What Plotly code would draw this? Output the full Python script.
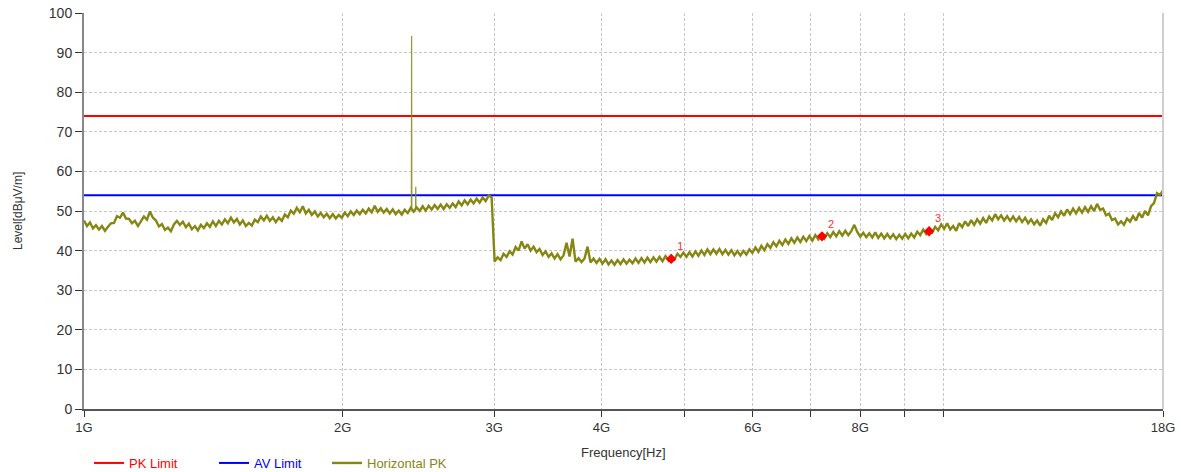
import numpy as np
import pandas as pd
import plotly.graph_objects as go

# ---- data ----
start_ghz, stop_ghz, n_points = 1.0, 18.0, 361
sweep_ghz = np.geomspace(start_ghz, stop_ghz, n_points)

horizontal_pk = [
    47.6, 46.2, 47.1, 45.6, 46.4, 45.3, 46.2, 45.0, 46.0, 46.9,
    47.0, 48.7, 48.3, 49.6, 48.1, 48.0, 46.9, 47.5, 46.2, 47.6,
    48.6, 47.8, 49.9, 48.3, 47.6, 46.1, 46.7, 45.2, 45.8, 44.9,
    46.6, 47.5, 46.5, 47.3, 45.9, 46.8, 45.4, 46.2, 45.1, 46.5,
    45.7, 46.9, 46.0, 47.4, 46.2, 47.5, 46.6, 47.9, 46.9, 48.3,
    47.1, 48.0, 46.6, 47.6, 46.2, 47.0, 46.3, 47.8, 47.2, 48.6,
    47.6, 48.8, 47.5, 48.4, 47.2, 48.3, 47.5, 49.1, 48.4, 50.1,
    49.3, 50.8, 49.7, 51.2, 49.4, 50.3, 49.0, 49.9, 48.6, 49.5,
    48.4, 49.3, 48.2, 49.2, 48.1, 49.0, 48.3, 49.6, 48.7, 49.9,
    49.0, 50.1, 49.2, 50.3, 49.4, 50.6, 49.7, 51.3, 49.8, 50.7,
    49.6, 50.5, 49.4, 50.4, 49.2, 50.1, 49.1, 50.3, 49.5, 50.8,
    49.8, 50.9, 50.0, 51.2, 50.1, 51.3, 50.4, 51.5, 50.5, 51.6,
    50.5, 51.7, 50.8, 51.9, 51.0, 52.4, 51.4, 52.7, 51.7, 52.9,
    51.9, 53.1, 52.1, 53.4, 52.5, 53.9, 53.5,
    37.2, 38.3, 37.6,
    39.2, 38.4, 39.8, 39.0, 40.9, 40.0, 42.3, 40.5, 41.6, 40.0,
    41.0, 39.6, 40.4, 38.9, 39.8, 38.4, 39.3, 38.0, 39.1, 37.8,
    38.8, 42.0, 38.5, 43.0, 37.2, 38.1, 37.1, 38.0, 41.0, 37.0,
    38.0, 36.9, 37.9, 36.7, 37.8, 36.5, 37.5, 36.4, 37.6, 36.6,
    37.8, 36.7, 37.7, 36.8, 38.0, 36.9, 38.1, 37.0, 38.2, 37.1,
    38.3, 37.2, 38.4, 37.3, 38.6, 37.5, 38.7, 37.8, 39.2, 38.4,
    39.5, 38.4, 39.6, 38.5, 39.8, 38.7, 40.0, 38.9, 40.3, 39.1,
    40.3, 39.2, 40.4, 39.1, 40.2, 39.0, 40.1, 38.8, 39.9, 38.8,
    39.9, 39.0, 40.3, 39.4, 40.8, 39.7, 41.2, 40.1, 41.6, 40.7,
    42.1, 41.1, 42.5, 41.4, 42.8, 41.7, 43.1, 42.0, 43.3, 42.2,
    43.5, 42.4, 43.7, 42.5, 43.9, 42.8, 43.9, 43.0, 44.4, 43.4,
    44.7, 43.6, 44.9, 43.8, 45.0, 43.9, 44.9, 46.5, 44.7, 43.5,
    44.5, 43.4, 44.4, 43.3, 44.6, 43.2, 44.3, 43.1, 44.2, 43.1,
    44.1, 42.9, 44.0, 43.0, 44.2, 43.1, 44.3, 43.3, 44.8, 43.9,
    45.3, 44.2, 45.6, 44.6, 46.0, 45.1, 46.6, 45.5, 46.9, 45.3,
    46.2, 45.0, 46.9, 45.9, 47.4, 46.2, 47.7, 46.5, 47.9, 46.8,
    48.2, 47.0, 48.6, 47.6, 49.2, 47.9, 48.9, 47.6, 48.7, 47.5,
    48.6, 47.4, 48.5, 47.2, 48.3, 46.9, 47.9, 46.6, 47.6, 46.3,
    47.9, 47.0, 48.8, 47.7, 49.4, 48.4, 49.9, 48.8, 50.4, 49.2,
    50.6, 49.4, 50.8, 49.6, 51.0, 49.8, 51.2, 50.0, 51.8, 50.3,
    50.6, 48.9, 49.3, 47.7, 48.1, 46.6, 47.4, 46.5, 48.1, 47.3,
    48.7, 47.6, 49.5, 48.3, 50.0, 48.9, 51.2, 52.0, 54.5, 54.0, 55.2,
]

# narrow emissions near 2.4 GHz (None separates the two carriers)
spike_ghz = [2.4035, 2.4045, 2.4050, 2.4055, 2.4065, None, 2.4305, 2.4320, 2.4335]
spike_level = [50.4, 77.5, 94.2, 76.8, 50.6, None, 50.6, 56.1, 50.5]

pk_limit = 74.0
av_limit = 54.0

marker_ghz = [4.82, 7.22, 9.62]
marker_level = [37.9, 43.6, 44.9]
marker_label = ["1", "2", "3"]

tick_ghz = [1, 2, 3, 4, 5, 6, 7, 8, 9, 10, 18]
tick_text = ["1G", "2G", "3G", "4G", "", "6G", "", "8G", "", "", "18G"]

# ---- layout constants (pixels) ----
W, H = 1181, 472
ML, MR, MT, MB = 84, 18, 13, 63
PW, PH = W - ML - MR, H - MT - MB

FONT = "Liberation Sans, Arial, sans-serif"
axis_font = dict(family=FONT, size=13, color="#333333")
trace_color = "#868612"

spike_hz = [g * 1e9 if g is not None else None for g in spike_ghz]

fig = go.Figure()
fig.add_trace(go.Scatter(
    x=[start_ghz * 1e9, stop_ghz * 1e9], y=[pk_limit, pk_limit], mode="lines",
    line=dict(color="#ff0000", width=2),
    name="<span style='color:#ff0000'>PK Limit</span>", legend="legend"))
fig.add_trace(go.Scatter(
    x=[start_ghz * 1e9, stop_ghz * 1e9], y=[av_limit, av_limit], mode="lines",
    line=dict(color="#0000ff", width=2),
    name="<span style='color:#0000ff'>AV Limit</span>", legend="legend2"))
fig.add_trace(go.Scatter(
    x=spike_hz, y=spike_level, mode="lines", connectgaps=False,
    line=dict(color=trace_color, width=1.2), opacity=0.85,
    showlegend=False, hoverinfo="skip"))
fig.add_trace(go.Scatter(
    x=sweep_ghz * 1e9, y=horizontal_pk, mode="lines",
    line=dict(color=trace_color, width=2.4),
    name=f"<span style='color:{trace_color}'>Horizontal PK</span>", legend="legend3"))
fig.add_trace(go.Scatter(
    x=np.array(marker_ghz) * 1e9, y=marker_level, mode="markers+text",
    marker=dict(symbol="diamond", color="#ff0000", size=8),
    text=marker_label, textposition="top right",
    textfont=dict(color="#ff3030", size=11, family=FONT), showlegend=False))

fig.update_xaxes(
    type="log", range=[np.log10(start_ghz * 1e9), np.log10(stop_ghz * 1e9)],
    tickvals=[g * 1e9 for g in tick_ghz], ticktext=tick_text,
    ticks="outside", ticklen=6, tickcolor="#333333",
    showgrid=True, gridcolor="#c8c8c8", griddash="3px,2px", gridwidth=1,
    showline=True, linecolor="#555555", linewidth=1.5,
    zeroline=False, tickfont=axis_font, automargin=False)
fig.update_yaxes(
    range=[0, 100], dtick=10, ticks="outside", ticklen=7, tickcolor="#333333",
    showgrid=True, gridcolor="#c8c8c8", griddash="3px,2px", gridwidth=1,
    showline=True, linecolor="#888888", linewidth=2,
    zeroline=False, tickfont=dict(family=FONT, size=14, color="#333333"),
    automargin=False)

fig.add_shape(type="line", xref="paper", yref="paper", x0=1, x1=1, y0=0, y1=1,
              line=dict(color="#d0d0d0", width=2))

# axis titles
fig.add_annotation(text="Frequency[Hz]", xref="paper", yref="paper",
                   x=(623 - ML) / PW, y=-(452 - (MT + PH)) / PH,
                   xanchor="center", yanchor="middle", showarrow=False, font=axis_font)
fig.add_annotation(text="Level[dBμV/m]", xref="paper", yref="paper",
                   x=-(ML - 18) / PW, y=0.5, textangle=-90,
                   xanchor="center", yanchor="middle", showarrow=False,
                   font=dict(family=FONT, size=12, color="#333333"))

# legends placed in container coordinates so they do not resize the plot area
leg_y = 1 - 463 / H
leg_common = dict(orientation="h", xref="container", yref="container",
                  xanchor="left", yanchor="middle", y=leg_y,
                  font=dict(family=FONT, size=13), bgcolor="rgba(0,0,0,0)")

fig.update_layout(
    width=W, height=H,
    margin=dict(l=ML, r=MR, t=MT, b=MB),
    paper_bgcolor="white", plot_bgcolor="white",
    font=axis_font,
    showlegend=True,
    legend=dict(x=(95 - 6) / W, **leg_common),
    legend2=dict(x=(220 - 6) / W, **leg_common),
    legend3=dict(x=(333 - 6) / W, **leg_common),
)

fig.write_html("out.html")
